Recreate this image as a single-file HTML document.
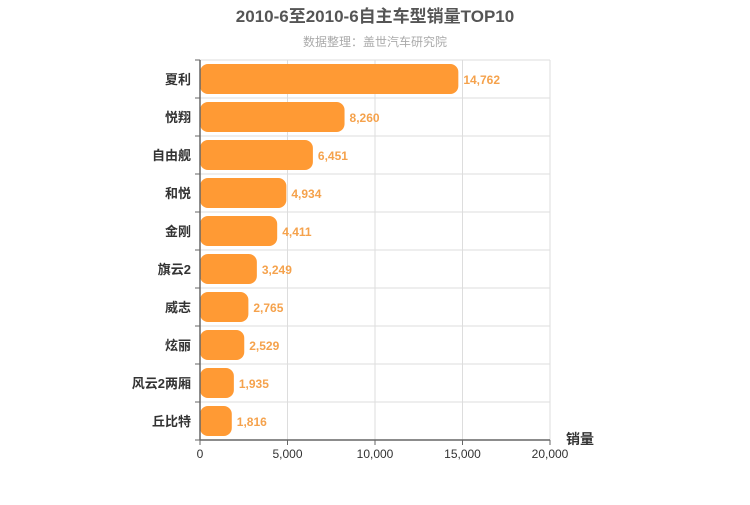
<!DOCTYPE html>
<html><head><meta charset="utf-8"><style>
body{margin:0;background:#fff;font-family:"Liberation Sans","Noto Sans CJK SC",sans-serif;}
svg text{font-family:"Liberation Sans","Noto Sans CJK SC",sans-serif;}
</style></head><body>
<svg id="c" width="750" height="500">
<text x="375" y="22" text-anchor="middle" font-size="17" font-weight="bold" fill="#555">2010-6至2010-6自主车型销量TOP10</text>
<text x="375" y="46" text-anchor="middle" font-size="12" fill="#aaa">数据整理：盖世汽车研究院</text>
<g id="grid"></g><g id="bars"></g><g id="axes"></g>
<text x="580" y="444" text-anchor="middle" font-size="14" font-weight="bold" fill="#333">销量</text>
</svg>
<script>
const categories=["夏利","悦翔","自由舰","和悦","金刚","旗云2","威志","炫丽","风云2两厢","丘比特"];
const values=[14762,8260,6451,4934,4411,3249,2765,2529,1935,1816];
const tickValues=[0,5000,10000,15000,20000];
const tickLabels=["0","5,000","10,000","15,000","20,000"];
const NS="http://www.w3.org/2000/svg";
const x0=200,x1=550,y0=60,rowH=38,xMax=20000;
const xs=v=>x0+v/xMax*(x1-x0);
const ys=i=>y0+i*rowH;
function mk(p,t,a){const e=document.createElementNS(NS,t);for(const k in a)e.setAttribute(k,a[k]);p.appendChild(e);return e;}
const grid=document.getElementById('grid'),bars=document.getElementById('bars'),axes=document.getElementById('axes');
tickValues.forEach((v,i)=>{
 if(i>0){const l=mk(grid,'line',{x1:xs(v),x2:xs(v),y1:y0,y2:ys(categories.length),stroke:'#ddd'});
 
 }
 const t=mk(axes,'text',{x:xs(v),y:ys(categories.length)+18,'text-anchor':'middle','font-size':12,fill:'#333'});t.textContent=tickLabels[i];
 
 
 mk(axes,'line',{x1:xs(v),x2:xs(v),y1:ys(categories.length),y2:ys(categories.length)+5,stroke:'#666'});
});
categories.forEach((c,i)=>{
 const l=mk(grid,'line',{x1:x0,x2:x1,y1:ys(i),y2:ys(i),stroke:'#ddd'});
 
 
 const r=mk(bars,'rect',{x:x0,y:ys(i)+4,width:xs(values[i])-x0,height:rowH-8,rx:8,fill:'#ff9a34'});
 
 
 const vt=mk(bars,'text',{x:xs(values[i])+5,y:ys(i)+rowH/2+5,'font-size':12,'font-weight':'bold',fill:'#f5a24c'});vt.textContent=values[i].toLocaleString('en-US');
 
 
 const ct=mk(axes,'text',{x:x0-9,y:ys(i)+rowH/2+5,'text-anchor':'end','font-size':13,'font-weight':'bold',fill:'#333'});ct.textContent=c;
 
 
 mk(axes,'line',{x1:x0-5,x2:x0,y1:ys(i),y2:ys(i),stroke:'#666'});
});
mk(axes,'line',{x1:x0-5,x2:x0,y1:ys(categories.length),y2:ys(categories.length),stroke:'#666'});
mk(axes,'line',{x1:x0,x2:x0,y1:y0,y2:ys(categories.length),stroke:'#666','stroke-width':1.5});
mk(axes,'line',{x1:x0,x2:x1,y1:ys(categories.length),y2:ys(categories.length),stroke:'#666','stroke-width':1.5});
</script>
</body></html>
